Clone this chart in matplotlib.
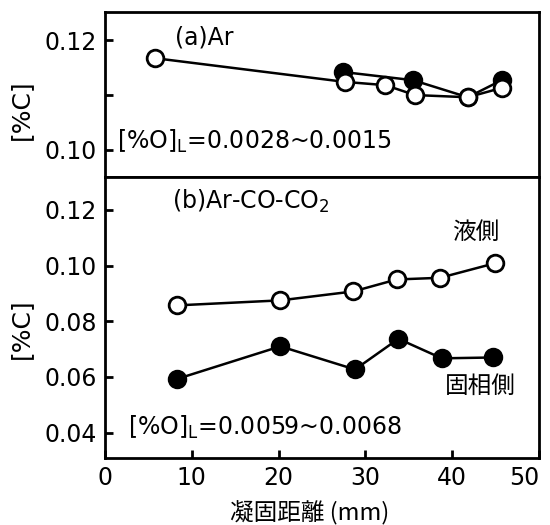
import matplotlib.pyplot as plt

# (a) Ar
a_open_x = [5.8, 27.6, 32.3, 35.7, 41.8, 45.7]
a_open_y = [0.1167, 0.1124, 0.1118, 0.1100, 0.1096, 0.1113]
a_fill_x = [27.4, 35.5, 41.8, 45.7]
a_fill_y = [0.1142, 0.1127, 0.1096, 0.1127]

# (b) Ar-CO-CO2
b_liq_x = [8.3, 20.2, 28.6, 33.6, 38.6, 44.9]
b_liq_y = [0.0857, 0.0875, 0.0907, 0.0950, 0.0956, 0.1008]
b_sol_x = [8.3, 20.2, 28.8, 33.8, 38.8, 44.7]
b_sol_y = [0.0593, 0.0710, 0.0627, 0.0737, 0.0667, 0.0670]

xticks = [0, 10, 20, 30, 40, 50]
jp = ['Noto Sans CJK JP', 'DejaVu Sans']

fig = plt.figure(figsize=(5.5, 5.25), dpi=100)
ax1 = fig.add_axes([0.191, 0.663, 0.789, 0.314])
ax2 = fig.add_axes([0.191, 0.128, 0.789, 0.535])

lw = 1.8
ms = 12
for ax in (ax1, ax2):
    for s in ax.spines.values():
        s.set_linewidth(2)
    ax.set_xlim(0, 50)
    ax.tick_params(direction='in', length=6, width=2, labelsize=17, pad=6)
    ax.tick_params(which='minor', direction='in', length=6, width=2)

ax1.plot(a_fill_x, a_fill_y, '-o', color='black', lw=lw, ms=ms, mfc='black', mew=2)
ax1.plot(a_open_x, a_open_y, '-o', color='black', lw=lw, ms=ms, mfc='white', mew=2)
ax1.set_ylim(0.0951, 0.1251)
ax1.set_yticks([0.10, 0.12])
ax1.set_yticklabels(['0.10', '0.12'])
ax1.set_yticks([0.11], minor=True)
ax1.set_xticks(xticks)
ax1.tick_params(axis='x', labelbottom=False, length=0)
ax1.text(8.1, 0.1204, '(a)Ar', fontsize=17, va='center')
ax1.text(1.4, 0.1015, '[%O]$_\\mathregular{L}$=0.0028~0.0015', fontsize=17, va='center')
ax1.set_ylabel('[%C]', fontsize=18)
ax1.yaxis.set_label_coords(-0.166, 0.41)

ax2.plot(b_liq_x, b_liq_y, '-o', color='black', lw=lw, ms=ms, mfc='white', mew=2)
ax2.plot(b_sol_x, b_sol_y, '-o', color='black', lw=lw, ms=ms, mfc='black', mew=2)
ax2.set_ylim(0.031, 0.1318)
ax2.set_yticks([0.04, 0.06, 0.08, 0.10, 0.12])
ax2.set_yticklabels(['0.04', '0.06', '0.08', '0.10', '0.12'])
ax2.set_xticks(xticks)
ax2.get_xticklabels()[-1].set_horizontalalignment('right')
ax2.text(7.7, 0.1229, '(b)Ar-CO-CO$_\\mathregular{2}$', fontsize=17, va='center')
ax2.text(42.7, 0.1117, '液側', fontsize=17, va='center', ha='center', family=jp)
ax2.text(43.2, 0.0568, '固相側', fontsize=17, va='center', ha='center', family=jp)
ax2.text(2.6, 0.0418, '[%O]$_\\mathregular{L}$=0.0059~0.0068', fontsize=17, va='center')
ax2.set_ylabel('[%C]', fontsize=18)
ax2.yaxis.set_label_coords(-0.166, 0.46)
ax2.set_xlabel('凝固距離 (mm)', fontsize=17, family=jp)
ax2.xaxis.set_label_coords(0.472, -0.155)

fig.savefig('out.png', dpi=100)
